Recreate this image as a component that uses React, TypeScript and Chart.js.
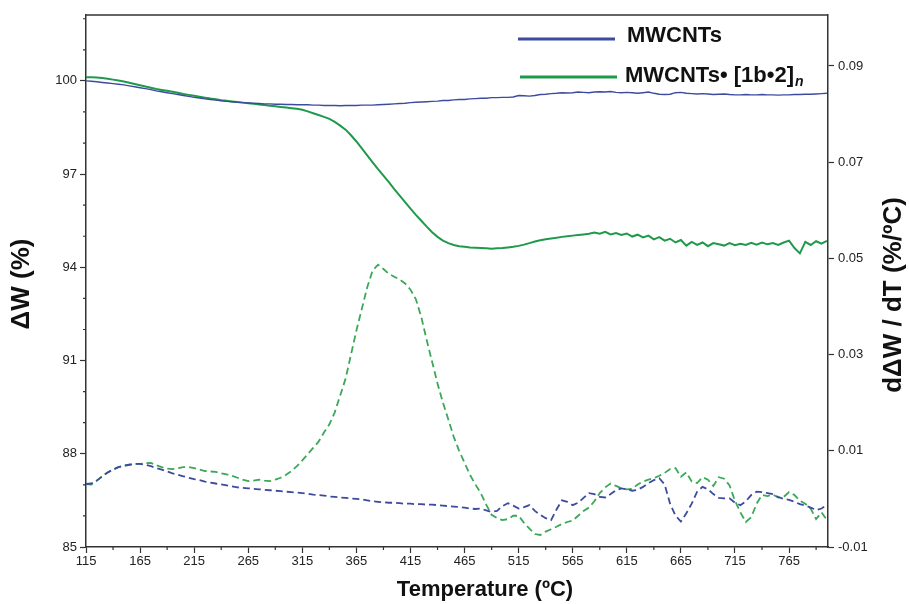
import React, { useEffect, useRef } from "react";
import { Chart, registerables } from "chart.js";
Chart.register(...registerables);

const temps = [
  115, 120, 125, 130, 135, 140, 145, 150, 155, 160, 165, 170, 175, 180, 185, 190, 195, 200, 205, 210,
  215, 220, 225, 230, 235, 240, 245, 250, 255, 260, 265, 270, 275, 280, 285, 290, 295, 300, 305, 310,
  315, 320, 325, 330, 335, 340, 345, 350, 355, 360, 365, 370, 375, 380, 385, 390, 395, 400, 405, 410,
  415, 420, 425, 430, 435, 440, 445, 450, 455, 460, 465, 470, 475, 480, 485, 490, 495, 500, 505, 510,
  515, 520, 525, 530, 535, 540, 545, 550, 555, 560, 565, 570, 575, 580, 585, 590, 595, 600, 605, 610,
  615, 620, 625, 630, 635, 640, 645, 650, 655, 660, 665, 670, 675, 680, 685, 690, 695, 700, 705, 710,
  715, 720, 725, 730, 735, 740, 745, 750, 755, 760, 765, 770, 775, 780, 785, 790, 795, 800,
];

// ΔW (%) — MWCNTs
const tgMwcnt = [
  100.0, 99.99, 99.97, 99.95, 99.93, 99.91, 99.89, 99.87, 99.84, 99.81, 99.78, 99.75, 99.72, 99.68, 99.65, 99.62, 99.59, 99.56, 99.53, 99.5,
  99.47, 99.45, 99.42, 99.4, 99.38, 99.36, 99.34, 99.33, 99.31, 99.3, 99.29, 99.28, 99.27, 99.26, 99.26, 99.25, 99.25, 99.24, 99.24, 99.23,
  99.23, 99.23, 99.22, 99.22, 99.21, 99.21, 99.21, 99.2, 99.21, 99.21, 99.21, 99.22, 99.22, 99.22, 99.23, 99.24, 99.25, 99.26, 99.27, 99.28,
  99.3, 99.31, 99.32, 99.33, 99.34, 99.35, 99.37, 99.37, 99.39, 99.4, 99.4, 99.42, 99.43, 99.44, 99.44, 99.46, 99.46, 99.47, 99.47, 99.48,
  99.53, 99.52, 99.51, 99.53, 99.56, 99.57, 99.59, 99.6, 99.62, 99.61, 99.62, 99.64, 99.63, 99.62, 99.64, 99.65, 99.64, 99.66, 99.63, 99.62,
  99.63, 99.62, 99.6, 99.62, 99.64, 99.6, 99.57, 99.56, 99.57, 99.62, 99.63, 99.6, 99.59, 99.58, 99.59, 99.58, 99.56, 99.57, 99.58, 99.56,
  99.55, 99.55, 99.56, 99.55, 99.55, 99.56, 99.55, 99.55, 99.54, 99.55, 99.55, 99.56, 99.56, 99.57, 99.57, 99.58, 99.59, 99.6,
];

// ΔW (%) — MWCNTs•[1b•2]n
const tgHybrid = [
  100.12, 100.12, 100.11, 100.09, 100.07, 100.04, 100.01, 99.98, 99.94, 99.9, 99.86, 99.82, 99.78, 99.74, 99.71, 99.68, 99.65, 99.62, 99.58, 99.55,
  99.52, 99.49, 99.46, 99.43, 99.41, 99.38, 99.36, 99.34, 99.32, 99.3, 99.28, 99.26, 99.24, 99.22, 99.2, 99.18, 99.16, 99.14, 99.12, 99.1,
  99.07, 99.02, 98.96, 98.9, 98.84, 98.78, 98.68, 98.56, 98.43, 98.25, 98.05, 97.83, 97.6, 97.38, 97.16, 96.95, 96.74, 96.52, 96.31, 96.1,
  95.89, 95.69, 95.5, 95.31, 95.13, 94.98, 94.86, 94.78, 94.72, 94.68, 94.66, 94.64, 94.63, 94.62, 94.61, 94.6, 94.61, 94.62, 94.64, 94.66,
  94.69, 94.73, 94.78, 94.83, 94.87, 94.9, 94.93, 94.95, 94.98, 95.0, 95.02, 95.04, 95.06, 95.08, 95.12, 95.08, 95.14, 95.06, 95.1, 95.04,
  95.09, 94.99, 95.05, 94.96, 95.02, 94.9, 94.97, 94.86, 94.92, 94.8, 94.88, 94.7, 94.82, 94.72, 94.8, 94.68, 94.78, 94.74, 94.7, 94.78,
  94.71, 94.76, 94.72, 94.79, 94.73, 94.8, 94.74, 94.78, 94.72, 94.8, 94.86, 94.62, 94.45, 94.82, 94.72, 94.84, 94.76, 94.85,
];

// dΔW/dT (%/ºC) — MWCNTs
const dtgMwcnt = [
  0.0031, 0.0032, 0.0038, 0.0047, 0.0055, 0.0061, 0.0066, 0.0069, 0.0071, 0.0073, 0.0073, 0.0071, 0.0068, 0.0064, 0.0061, 0.0057, 0.0053, 0.005, 0.0047, 0.0044,
  0.0041, 0.0039, 0.0036, 0.0034, 0.0032, 0.003, 0.0028, 0.0026, 0.0024, 0.0023, 0.0022, 0.0021, 0.002, 0.0019, 0.0018, 0.0017, 0.0016, 0.0015, 0.0014, 0.0013,
  0.0012, 0.0011, 0.0009, 0.0008, 0.0007, 0.0005, 0.0004, 0.0003, 0.0002, 0.0001, 0.0, -0.0001, -0.0003, -0.0005, -0.0006, -0.0007, -0.0008, -0.0008, -0.0009, -0.001,
  -0.001, -0.0011, -0.0011, -0.0012, -0.0012, -0.0013, -0.0014, -0.0015, -0.0016, -0.0017, -0.0018, -0.002, -0.0021, -0.002, -0.0024, -0.0027, -0.0025, -0.0015, -0.0009, -0.0014,
  -0.002, -0.0017, -0.0013, -0.0025, -0.0033, -0.004, -0.0044, -0.0022, -0.0003, -0.0006, -0.0013, -0.0008, 0.0002, 0.0012, 0.001, 0.0004, 0.0003, 0.001, 0.0018, 0.0022,
  0.002, 0.0017, 0.0019, 0.0025, 0.0033, 0.0039, 0.0043, 0.003, -0.001, -0.0035, -0.0047, -0.003, -0.001, 0.0015, 0.0025, 0.002, 0.001, 0.0002, 0.0001, 0.0001,
  -0.0008, -0.0013, -0.0005, 0.0008, 0.0015, 0.0014, 0.0012, 0.001, 0.0004, 0.0, -0.0002, -0.0006, -0.0011, -0.0014, -0.0018, -0.0023, -0.002, -0.0013,
];

// dΔW/dT (%/ºC) — MWCNTs•[1b•2]n
const dtgHybrid = [
  0.0031, 0.003, 0.0038, 0.0047, 0.0055, 0.0061, 0.0066, 0.0069, 0.0071, 0.0073, 0.0073, 0.0074, 0.0075, 0.007, 0.0066, 0.0063, 0.0062, 0.0064, 0.0066, 0.0066,
  0.0064, 0.0061, 0.0058, 0.0057, 0.0056, 0.0053, 0.0051, 0.0048, 0.0044, 0.004, 0.0037, 0.0038, 0.004, 0.0038, 0.0037, 0.004, 0.0044, 0.005, 0.0058, 0.0068,
  0.008, 0.0093, 0.0106, 0.0119, 0.0138, 0.0155, 0.018, 0.0215, 0.025, 0.03, 0.035, 0.0395, 0.044, 0.0475, 0.0487, 0.0478, 0.0468, 0.0462, 0.0456, 0.0448,
  0.0435, 0.0415, 0.0378, 0.033, 0.0285, 0.024, 0.02, 0.0165, 0.0129, 0.01, 0.0075, 0.005, 0.003, 0.0012, -0.0012, -0.0033, -0.004, -0.0044, -0.0042, -0.0035,
  -0.0035, -0.005, -0.0062, -0.0073, -0.0075, -0.0068, -0.0063, -0.0058, -0.0052, -0.0048, -0.0045, -0.0035, -0.0025, -0.0018, -0.0005, 0.0012, 0.0024, 0.0032, 0.0027, 0.0022,
  0.002, 0.0021, 0.003, 0.0036, 0.004, 0.0043, 0.0048, 0.0054, 0.0062, 0.0064, 0.0046, 0.0055, 0.0036, 0.0033, 0.0045, 0.004, 0.0027, 0.0045, 0.0042, 0.0028,
  -0.0004, -0.0028, -0.0048, -0.0038, -0.001, 0.0008, 0.0006, 0.0009, 0.0003, 0.0004, 0.0014, 0.0008, -0.0004, -0.001, -0.002, -0.0042, -0.0028, -0.0044,
];

const xTicks = [115, 165, 215, 265, 315, 365, 415, 465, 515, 565, 615, 665, 715, 765];
const xMinorTicks = [140, 190, 240, 290, 340, 390, 440, 490, 540, 590, 640, 690, 740, 790];
const leftTicks = [85, 88, 91, 94, 97, 100];
const leftMinorTicks = [86, 87, 89, 90, 92, 93, 95, 96, 98, 99, 101, 102];
const rightTicks = [-0.01, 0.01, 0.03, 0.05, 0.07, 0.09];

const seriesNames = ["MWCNTs", "MWCNTs• [1b•2]"];
const BLUE = "#3d4b9e";
const GREEN = "#1f9a4a";
const GREEN_D = "#3aa858";
const AXIS = "#333333";
const FONT = '"Liberation Sans", Arial, sans-serif';

const pts = (ys: number[]) => temps.map((t, i) => ({ x: t, y: ys[i] }));

const decor = {
  id: "decor",
  afterDraw(chart: any) {
    const ctx = chart.ctx as CanvasRenderingContext2D;
    const { left, right, top, bottom } = chart.chartArea;
    ctx.save();
    ctx.strokeStyle = AXIS;
    ctx.lineWidth = 1.5;
    ctx.beginPath();
    ctx.moveTo(left, top);
    ctx.lineTo(right, top);
    ctx.stroke();
    // minor ticks
    ctx.lineWidth = 1.2;
    ctx.beginPath();
    const xs = chart.scales.x;
    xMinorTicks.forEach((v) => {
      const p = xs.getPixelForValue(v);
      ctx.moveTo(p, bottom);
      ctx.lineTo(p, bottom + 3);
    });
    const yl = chart.scales.yL;
    leftMinorTicks.forEach((v) => {
      const p = yl.getPixelForValue(v);
      ctx.moveTo(left, p);
      ctx.lineTo(left - 3, p);
    });
    ctx.stroke();

    // axis titles
    ctx.fillStyle = "#111";
    ctx.textAlign = "center";
    ctx.textBaseline = "middle";
    ctx.font = `bold 22px ${FONT}`;
    ctx.fillText("Temperature (ºC)", 485, 590);
    ctx.save();
    ctx.translate(22, 284);
    ctx.rotate(-Math.PI / 2);
    ctx.font = `bold 26px ${FONT}`;
    ctx.fillText("ΔW (%)", 0, 0);
    ctx.restore();
    ctx.save();
    ctx.translate(894, 295);
    ctx.rotate(-Math.PI / 2);
    ctx.font = `bold 26px ${FONT}`;
    ctx.fillText("dΔW / dT (%/ºC)", 0, 0);
    ctx.restore();

    // legend
    ctx.lineWidth = 3;
    ctx.strokeStyle = BLUE;
    ctx.beginPath();
    ctx.moveTo(518, 39);
    ctx.lineTo(615, 39);
    ctx.stroke();
    ctx.strokeStyle = GREEN;
    ctx.beginPath();
    ctx.moveTo(520, 77);
    ctx.lineTo(617, 77);
    ctx.stroke();
    ctx.textAlign = "left";
    ctx.textBaseline = "alphabetic";
    ctx.font = `bold 22px ${FONT}`;
    ctx.fillText(seriesNames[0], 627, 42);
    ctx.fillText(seriesNames[1], 625, 82);
    const w = ctx.measureText(seriesNames[1]).width;
    ctx.font = `italic bold 14px ${FONT}`;
    ctx.fillText("n", 625 + w + 1, 86);
    ctx.restore();
  },
};

export default function App() {
  const ref = useRef<HTMLCanvasElement | null>(null);
  useEffect(() => {
    document.body.style.margin = "0";
    const canvas = ref.current!;
    const tickFont = { family: FONT, size: 13 };
    const chart = new Chart(canvas, {
      type: "line",
      data: {
        datasets: [
          { label: seriesNames[0], data: pts(tgMwcnt), yAxisID: "yL", borderColor: BLUE, borderWidth: 1.4, pointRadius: 0 },
          { label: seriesNames[1], data: pts(tgHybrid), yAxisID: "yL", borderColor: GREEN, borderWidth: 2, pointRadius: 0 },
          { label: "dtg1", data: pts(dtgMwcnt), yAxisID: "yR", borderColor: BLUE, borderWidth: 1.8, borderDash: [7, 4], pointRadius: 0 },
          { label: "dtg2", data: pts(dtgHybrid), yAxisID: "yR", borderColor: GREEN_D, borderWidth: 1.8, borderDash: [7, 4], pointRadius: 0 },
        ],
      },
      options: {
        responsive: false,
        animation: false,
        events: [],
        layout: { padding: { top: 15, left: 0, right: 0, bottom: 0 } },
        plugins: { legend: { display: false }, tooltip: { enabled: false } },
        scales: {
          x: {
            type: "linear",
            position: "bottom",
            min: 115,
            max: 801,
            afterBuildTicks: (s: any) => { s.ticks = xTicks.map((v) => ({ value: v })); },
            afterFit: (s: any) => { s.height = 57; },
            ticks: { autoSkip: false, maxRotation: 0, color: "#222", font: tickFont, padding: 1 },
            grid: { drawOnChartArea: false, tickLength: 6, tickColor: AXIS, tickWidth: 1.2 },
            border: { color: AXIS, width: 1.5 },
          },
          yL: {
            type: "linear",
            position: "left",
            min: 85,
            max: 102.12,
            afterBuildTicks: (s: any) => { s.ticks = leftTicks.map((v) => ({ value: v })); },
            afterFit: (s: any) => { s.width = 86; },
            ticks: { autoSkip: false, color: "#222", font: tickFont, padding: 3 },
            grid: { drawOnChartArea: false, tickLength: 6, tickColor: AXIS, tickWidth: 1.2 },
            border: { color: AXIS, width: 1.5 },
          },
          yR: {
            type: "linear",
            position: "right",
            min: -0.01,
            max: 0.1006,
            afterBuildTicks: (s: any) => { s.ticks = rightTicks.map((v) => ({ value: v })); },
            afterFit: (s: any) => { s.width = 81; },
            ticks: { autoSkip: false, color: "#222", font: tickFont, padding: 4, callback: (v: any) => Number(v).toFixed(2) },
            grid: { drawOnChartArea: false, tickLength: 6, tickColor: AXIS, tickWidth: 1.2 },
            border: { color: AXIS, width: 1.5 },
          },
        },
      },
      plugins: [decor],
    } as any);
    return () => chart.destroy();
  }, []);
  return (
    <div style={{ width: 909, height: 604, background: "#fff" }}>
      <canvas ref={ref} width={909} height={604} style={{ display: "block" }} />
    </div>
  );
}
